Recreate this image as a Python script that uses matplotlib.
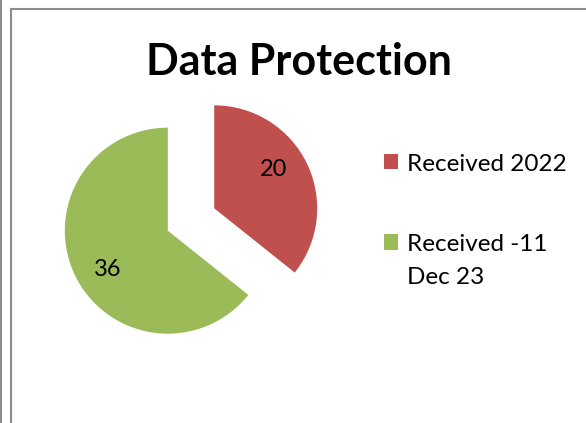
import matplotlib
matplotlib.use("Agg")
import numpy as np
import matplotlib.pyplot as plt
from matplotlib.lines import Line2D

# data
labels = ["Received 2022", "Received -11\nDec 23"]
values = [20, 36]
colors = ["#C0504D", "#9BBB59"]

plt.rcParams['font.family'] = ['Lato', 'DejaVu Sans']

W, H = 586, 423
fig = plt.figure(figsize=(W / 100, H / 100), dpi=100)
ax = fig.add_axes([0, 0, 1, 1])

r = 103
wedges, texts, autotexts = ax.pie(
    values, colors=colors, startangle=90, counterclock=False,
    explode=[0.25 * r, 0.25 * r], center=(191, H - 219.5), radius=r,
    autopct=lambda p: "%d" % round(p * sum(values) / 100),
    pctdistance=0.69, textprops={'fontsize': 17, 'color': 'black'},
    wedgeprops={'linewidth': 0}, frame=True)
# Excel puts the value labels a little counter-clockwise of the middle
for w, t in zip(wedges, autotexts):
    th = np.deg2rad((w.theta1 + w.theta2) / 2 + 7)
    t.set_position((w.center[0] + 0.69 * r * np.cos(th), w.center[1] + 0.69 * r * np.sin(th)))
ax.set_xlim(0, W)
ax.set_ylim(0, H)
ax.set_aspect('equal')
ax.axis('off')

fig.text(299 / W, 1 - 75 / H, "Data Protection", ha='center', va='baseline',
         fontsize=31, fontweight='bold')

leg = ax.legend(wedges, labels, loc='upper left', bbox_to_anchor=(362 / W, 1 - 132 / H),
                frameon=False, fontsize=17.5, handlelength=0.6, handleheight=0.6,
                handletextpad=0.35, labelspacing=2.45, bbox_transform=fig.transFigure)
for t in leg.get_texts():
    t.set_linespacing(1.7)
# square next to the first line of each label, as in Excel
for col in leg._legend_handle_box.get_children():
    for item in col.get_children():
        item.align = 'top'

# chart frame
gray = "#8c8c8c"
fig.add_artist(Line2D([0.5 / W, 0.5 / W], [0, 1], color=gray, lw=1.5, transform=fig.transFigure))
fig.add_artist(Line2D([10.5 / W, 10.5 / W], [0, 1 - 9.5 / H], color=gray, lw=1.5, transform=fig.transFigure))
fig.add_artist(Line2D([10.5 / W, 1], [1 - 9.5 / H, 1 - 9.5 / H], color=gray, lw=1.5, transform=fig.transFigure))

fig.savefig("out.png", dpi=100)
